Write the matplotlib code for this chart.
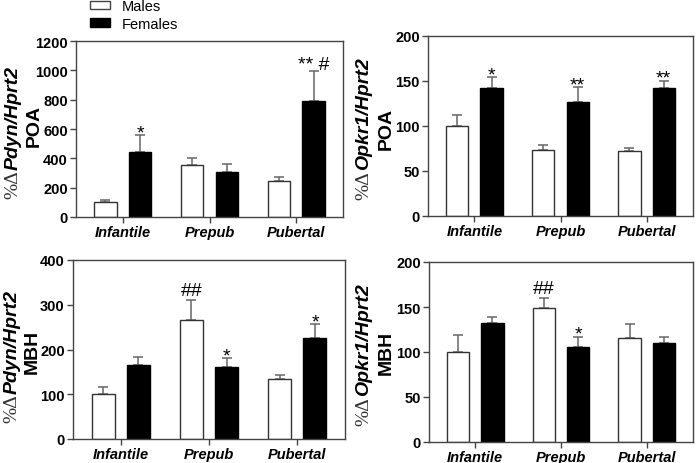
import matplotlib
matplotlib.use("Agg")
import matplotlib.pyplot as plt
from matplotlib.patches import Patch
import numpy as np

plt.rcParams['font.family'] = ['Liberation Sans', 'DejaVu Sans']

# данные
groups = ['Infantile', 'Prepub', 'Pubertal']

pdyn_poa_m = [100, 355, 245]
pdyn_poa_m_err = [15, 48, 30]
pdyn_poa_f = [445, 305, 790]
pdyn_poa_f_err = [112, 55, 207]

opkr_poa_m = [100, 73, 72]
opkr_poa_m_err = [12.5, 6, 4]
opkr_poa_f = [142, 127, 142.5]
opkr_poa_f_err = [12, 16, 8]

pdyn_mbh_m = [100, 265, 133]
pdyn_mbh_m_err = [17, 45, 11]
pdyn_mbh_f = [166, 160, 225]
pdyn_mbh_f_err = [17, 21, 31]

opkr_mbh_m = [100, 149, 116]
opkr_mbh_m_err = [19, 10.5, 15]
opkr_mbh_f = [132, 106, 110]
opkr_mbh_f_err = [6.5, 11, 6.5]

# значки достоверности
sig_pdyn_poa_m = ['', '', '']
sig_pdyn_poa_f = ['*', '', '** #']
sig_opkr_poa_m = ['', '', '']
sig_opkr_poa_f = ['*', '**', '**']
sig_pdyn_mbh_m = ['', '##', '']
sig_pdyn_mbh_f = ['', '*', '*']
sig_opkr_mbh_m = ['', '##', '']
sig_opkr_mbh_f = ['', '*', '']

W, H = 700, 464
fig = plt.figure(figsize=(7, 4.64), dpi=100)


def make_axes(l, t, r, b):
    return fig.add_axes([l / W, 1 - b / H, (r - l) / W, (b - t) / H])


# offsets for sig labels (points)
sig_off = {'*': -1.5, '**': -1.5, '** #': 1, '##': 4}


def panel(ax, m, me, f, fe, sm, sf, ymax, step, gene, region, lx, px, ly, py):
    x = np.arange(len(groups))
    w = 0.26
    d = 0.2
    ax.bar(x - d, m, w, color='white', edgecolor='#333333', linewidth=1.0, zorder=2)
    ax.bar(x + d, f, w, color='black', edgecolor='black', linewidth=1.0, zorder=2)
    ax.errorbar(x - d, m, yerr=[np.zeros(3), me], fmt='none', ecolor='#666666',
                elinewidth=1.1, capsize=3.8, capthick=1.1, zorder=1)
    ax.errorbar(x + d, f, yerr=[np.zeros(3), fe], fmt='none', ecolor='#666666',
                elinewidth=1.1, capsize=3.8, capthick=1.1, zorder=1)
    for i in range(3):
        if sm[i]:
            ax.annotate(sm[i], xy=(x[i] - d, m[i] + me[i]), xytext=(0, sig_off[sm[i]]),
                        textcoords='offset points', ha='center', va='baseline', fontsize=14)
        if sf[i]:
            ax.annotate(sf[i], xy=(x[i] + d, f[i] + fe[i]), xytext=(0, sig_off[sf[i]]),
                        textcoords='offset points', ha='center', va='baseline', fontsize=14)

    ax.set_xlim(-0.54, 2.54)
    ax.set_ylim(0, ymax)
    ax.set_yticks(np.arange(0, ymax + 1, step))
    ax.set_xticks(x)
    ax.set_xticklabels(groups, fontstyle='italic', fontweight='bold', fontsize=10.5)
    for lab in ax.get_yticklabels():
        lab.set_fontweight('bold')
        lab.set_fontsize(10.5)
    for s in ax.spines.values():
        s.set_color('#444444')
        s.set_linewidth(1.0)
    ax.tick_params(direction='out', length=4, width=1.0, color='#444444', pad=2)

    # подпись оси
    t = fig.text(lx / W, 1 - ly / H, gene, rotation=90, ha='center', va='center',
                 fontsize=14, fontweight='bold', fontstyle='italic')
    ax.annotate('%\u0394', xy=(0.5, 0), xycoords=t, xytext=(0, -0.5),
                textcoords='offset points', ha='center', va='top', rotation=90,
                fontsize=14, family='Liberation Serif', color='#333333',
                annotation_clip=False)
    fig.text(px / W, 1 - py / H, region, rotation=90, ha='center', va='center',
             fontsize=14, fontweight='bold')


ax1 = make_axes(76, 42, 343, 218)
panel(ax1, pdyn_poa_m, pdyn_poa_m_err, pdyn_poa_f, pdyn_poa_f_err,
      sig_pdyn_poa_m, sig_pdyn_poa_f, 1200, 200, 'Pdyn/Hprt2', 'POA', 13, 34, 118, 126)

ax2 = make_axes(428, 37, 693, 217)
panel(ax2, opkr_poa_m, opkr_poa_m_err, opkr_poa_f, opkr_poa_f_err,
      sig_opkr_poa_m, sig_opkr_poa_f, 200, 50, 'Opkr1/Hprt2', 'POA', 364, 386, 114, 129)

ax3 = make_axes(73, 261, 345, 440)
panel(ax3, pdyn_mbh_m, pdyn_mbh_m_err, pdyn_mbh_f, pdyn_mbh_f_err,
      sig_pdyn_mbh_m, sig_pdyn_mbh_f, 400, 100, 'Pdyn/Hprt2', 'MBH', 12, 32, 342, 352)

ax4 = make_axes(429, 263, 693, 443)
panel(ax4, opkr_mbh_m, opkr_mbh_m_err, opkr_mbh_f, opkr_mbh_f_err,
      sig_opkr_mbh_m, sig_opkr_mbh_f, 200, 50, 'Opkr1/Hprt2', 'MBH', 364, 386, 340, 353)

# легенда
handles = [Patch(facecolor='white', edgecolor='#444444', linewidth=1.0),
           Patch(facecolor='black', edgecolor='black')]
fig.legend(handles, ['Males', 'Females'], loc='upper left',
           bbox_to_anchor=(90 / W, 1 - 0 / H), frameon=False, fontsize=10.5,
           handlelength=1.35, handleheight=0.5, handletextpad=0.8,
           labelspacing=0.25, borderaxespad=0, borderpad=0)

fig.savefig('out.png', dpi=100)
